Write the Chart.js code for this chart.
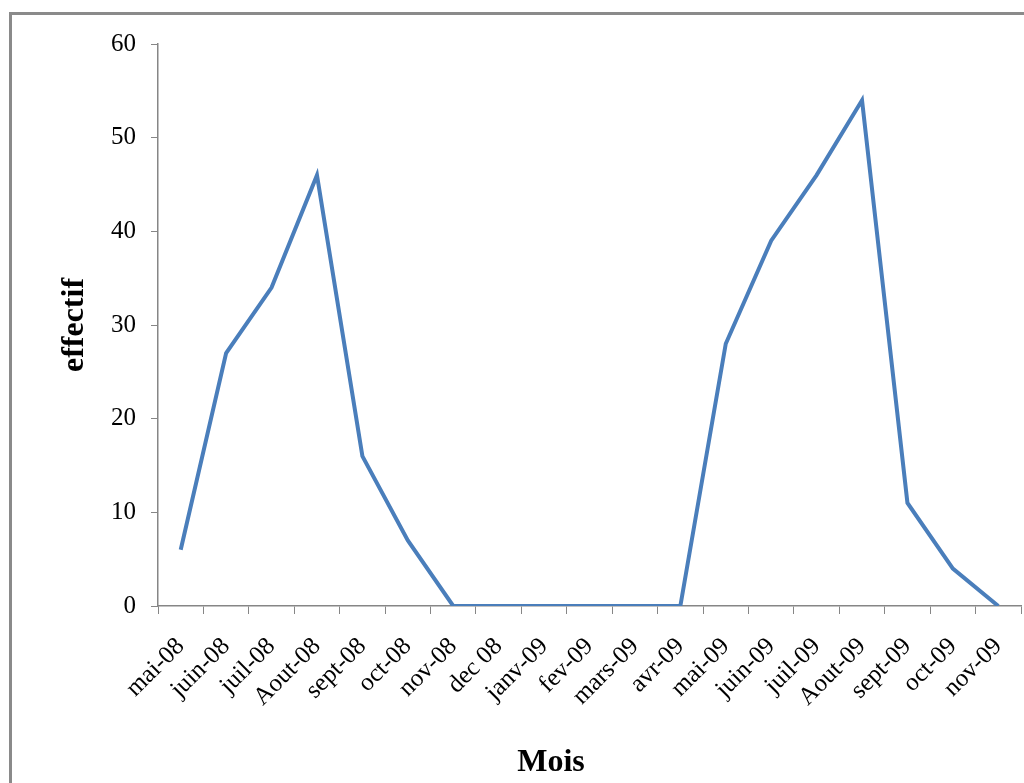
<!DOCTYPE html>
<html>
<head>
<meta charset="utf-8">
<title>effectif par mois</title>
<script src="https://cdn.jsdelivr.net/npm/chart.js@4/dist/chart.umd.min.js"></script>
<style>
  html, body { margin: 0; padding: 0; background: #fff; overflow: hidden; }
  #frame {
    position: absolute; left: 9px; top: 12px;
    width: 1100px; height: 900px;
    border: 3px solid #8a8a8a;
  }
  #wrap { position: absolute; left: 0; top: 0; width: 1024px; height: 783px; }
</style>
</head>
<body>
<div id="frame"></div>
<div id="wrap"><canvas id="chart" width="1024" height="783"></canvas></div>
<script>
// Mois de l'étude (mai 2008 - nov 2009)
const mois = [
  "mai-08", "juin-08", "juil-08", "Aout-08", "sept-08", "oct-08", "nov-08",
  "dec 08", "janv-09", "fev-09", "mars-09", "avr-09",
  "mai-09", "juin-09", "juil-09", "Aout-09", "sept-09", "oct-09", "nov-09"
];

// Effectif observé chaque mois
const effectif = [6, 27, 34, 46, 16, 7, 0, 0, 0, 0, 0, 0, 28, 39, 46, 54, 11, 4, 0];

const yTicks = [0, 10, 20, 30, 40, 50, 60];

const serif = "'Liberation Serif', 'Times New Roman', serif";
const axisGrey = "#868686";

// titre de l'axe X, un peu décalé à gauche du centre
const xTitle = {
  id: "xTitle",
  afterDraw(chart) {
    const c = chart.ctx;
    c.save();
    c.font = "bold 32px " + serif;
    c.fillStyle = "#000";
    c.textAlign = "center";
    c.textBaseline = "middle";
    c.fillText("Mois", 551, 763);
    c.restore();
  },
};

const ctx = document.getElementById("chart").getContext("2d");

new Chart(ctx, {
  type: "line",
  data: {
    labels: mois,
    datasets: [
      {
        label: "effectif",
        data: effectif,
        borderColor: "#4a7ebb",
        borderWidth: 4,
        tension: 0,
        pointRadius: 0,
        fill: false,
      },
    ],
  },
  plugins: [xTitle],
  options: {
    responsive: false,
    animation: false,
    layout: { padding: { top: 44, right: 3, left: 0, bottom: 0 } },
    plugins: {
      legend: { display: false },
      tooltip: { enabled: false },
    },
    scales: {
      x: {
        offset: true,
        grid: {
          offset: true,
          drawOnChartArea: false,
          color: axisGrey,
          tickLength: 8,
        },
        border: { color: axisGrey, width: 1.5 },
        ticks: {
          autoSkip: false,
          maxRotation: 45,
          minRotation: 45,
          padding: 18,
          color: "#000",
          font: { family: serif, size: 25 },
        },
        afterFit: (scale) => {
          scale.height = 783 - 606;
          scale.paddingRight = 0;
        },
      },
      y: {
        min: 0,
        max: 60,
        afterBuildTicks: (scale) => {
          scale.ticks = yTicks.map((v) => ({ value: v }));
        },
        grid: {
          drawOnChartArea: false,
          color: axisGrey,
          tickLength: 7,
        },
        border: { color: axisGrey, width: 1.5 },
        ticks: {
          padding: 15,
          color: "#000",
          font: { family: serif, size: 25 },
        },
        title: {
          display: true,
          text: "effectif",
          color: "#000",
          font: { family: serif, size: 32, weight: "bold" },
          padding: { top: 56, bottom: 0 },
        },
        afterFit: (scale) => {
          scale.width = 158;
        },
      },
    },
  },
});
</script>
</body>
</html>
